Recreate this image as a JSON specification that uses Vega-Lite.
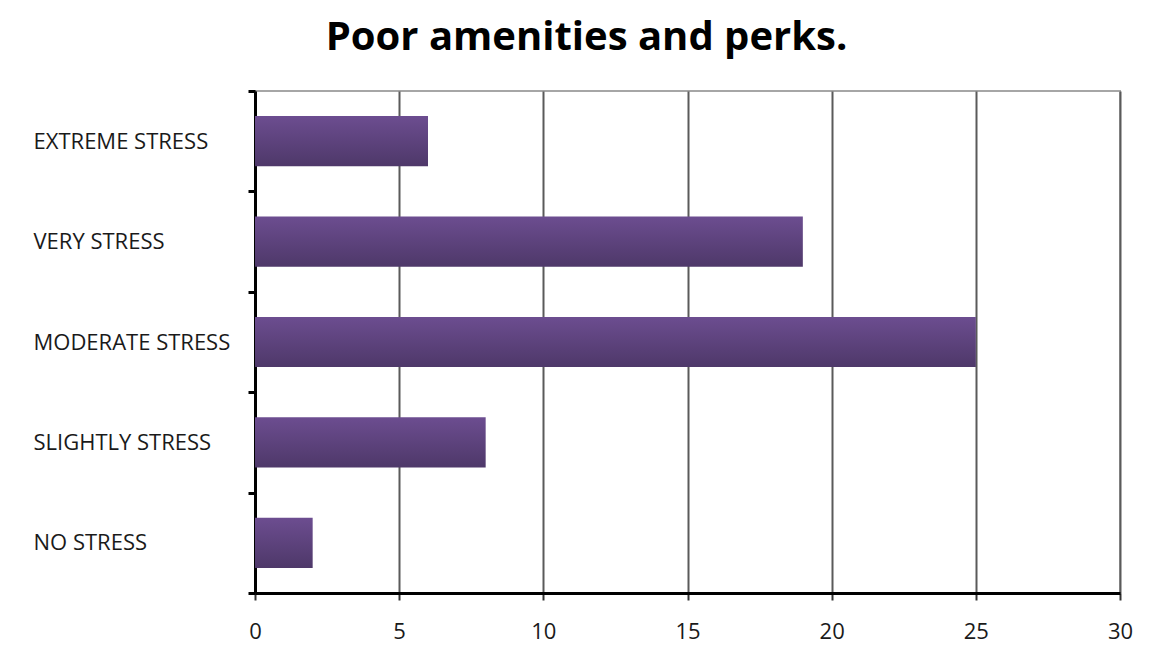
{
  "$schema": "https://vega.github.io/schema/vega-lite/v6.json",
  "width": 865,
  "height": 502,
  "autosize": {"type": "none"},
  "padding": {"left": 255, "top": 91, "right": 32, "bottom": 71},
  "background": "#ffffff",
  "config": {
    "view": {"stroke": "#a6a6a6", "strokeWidth": 2},
    "font": "Open Sans"
  },
  "title": {
    "text": "Poor amenities and perks.",
    "font": "Open Sans",
    "fontSize": 40,
    "fontWeight": "bold",
    "color": "#000000",
    "anchor": "middle",
    "frame": "group",
    "dx": -101,
    "dy": 46,
    "baseline": "alphabetic",
    "offset": 36
  },
  "data": {
    "values": [
      {"level": "EXTREME STRESS", "count": 6},
      {"level": "VERY STRESS", "count": 19},
      {"level": "MODERATE STRESS", "count": 25},
      {"level": "SLIGHTLY STRESS", "count": 8},
      {"level": "NO STRESS", "count": 2}
    ]
  },
  "mark": {
    "type": "bar",
    "height": {"band": 0.5},
    "color": {
      "gradient": "linear",
      "x1": 0, "y1": 0, "x2": 0, "y2": 1,
      "stops": [
        {"offset": 0, "color": "#6c4d90"},
        {"offset": 1, "color": "#4e3869"}
      ]
    }
  },
  "encoding": {
    "y": {
      "field": "level",
      "type": "nominal",
      "sort": null,
      "scale": {"paddingInner": 0, "paddingOuter": 0},
      "axis": {
        "title": null,
        "domainColor": "#000000",
        "domainWidth": 3,
        "tickBand": "extent",
        "tickColor": "#000000",
        "tickWidth": 3,
        "tickSize": 7,
        "labelAlign": "left",
        "labelPadding": 215,
        "labelLimit": 400,
        "labelFont": "Open Sans",
        "labelFontSize": 22,
        "labelColor": "#1a1a1a",
        "grid": false
      }
    },
    "x": {
      "field": "count",
      "type": "quantitative",
      "scale": {"domain": [0, 30], "nice": false},
      "axis": {
        "title": null,
        "values": [0, 5, 10, 15, 20, 25, 30],
        "domainColor": "#000000",
        "domainWidth": 3,
        "tickColor": "#333333",
        "tickWidth": 2,
        "tickSize": 7,
        "labelPadding": 21,
        "labelFlush": false,
        "labelOverlap": false,
        "labelFont": "Open Sans",
        "labelFontSize": 22,
        "labelColor": "#1a1a1a",
        "grid": true,
        "gridColor": "#5a5a5a",
        "gridWidth": 2,
        "gridOpacity": 1
      }
    }
  }
}
